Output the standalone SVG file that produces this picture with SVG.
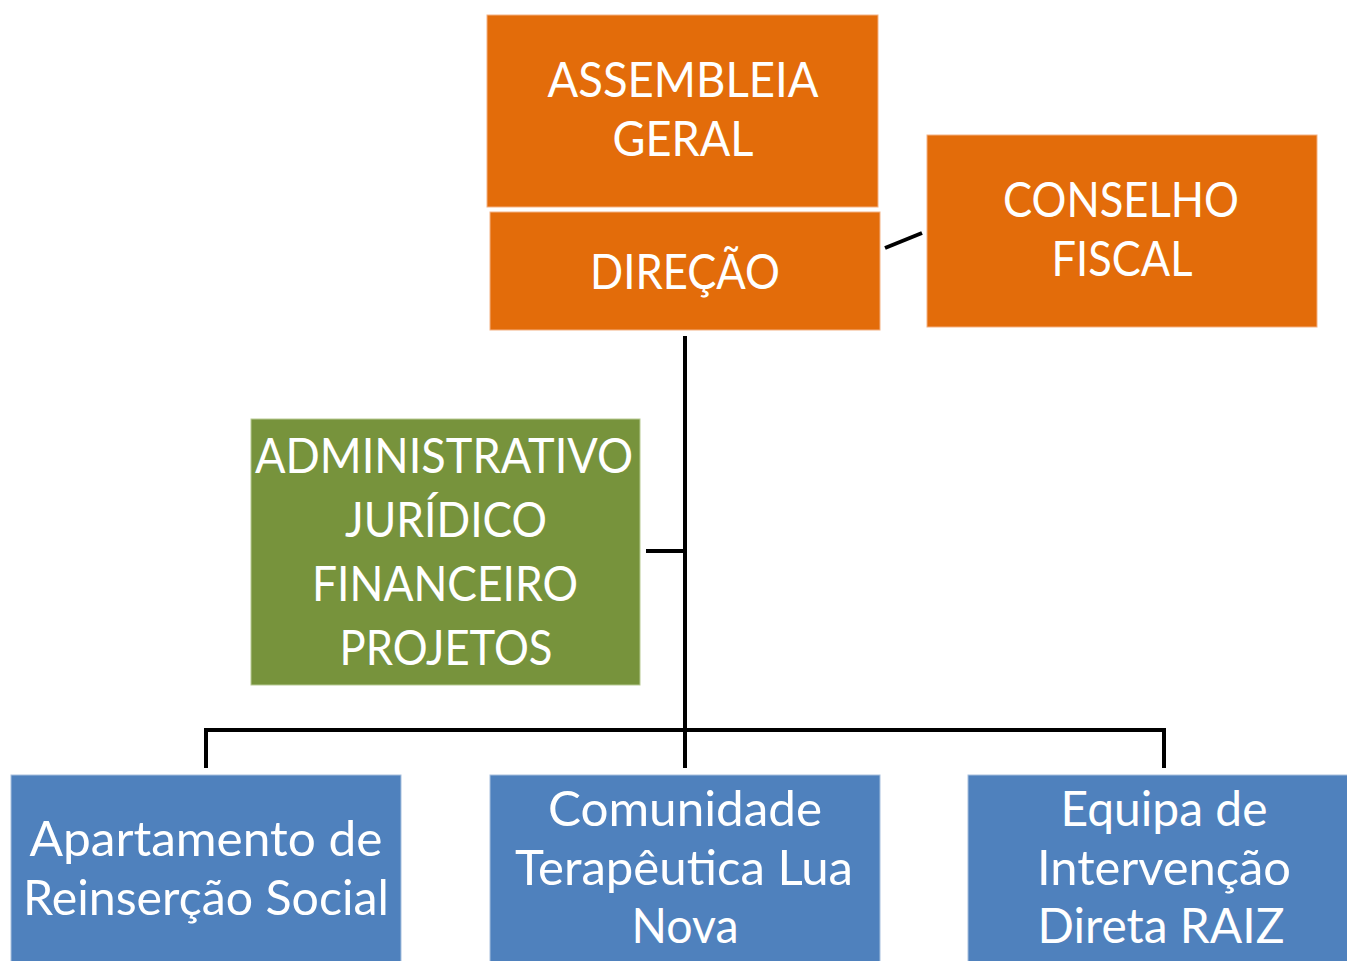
<svg xmlns="http://www.w3.org/2000/svg" width="1347" height="961" viewBox="0 0 1347 961">
<style>
.o{fill:#E36C0A;stroke:#F4B183;stroke-width:1}
.g{fill:#77933C;stroke:#B7CA92;stroke-width:1}
.b{fill:#4F81BD;stroke:#A7C0DE;stroke-width:1}
text{font-family:Lato,"Open Sans","Liberation Sans",sans-serif;font-size:48px;fill:#FFFFFF;text-anchor:middle}
.c{fill:none;stroke:#000000;stroke-width:4}
</style>
<rect width="1347" height="961" fill="#FFFFFF"/>
<g id="connectors">
<line class="c" x1="885" y1="248" x2="922" y2="233"/>
<line class="c" x1="685" y1="336" x2="685" y2="768"/>
<line class="c" x1="646" y1="551" x2="685" y2="551"/>
<polyline class="c" points="206,768 206,730 1164,730 1164,768"/>
</g>
<g id="assembleia">
<rect class="o" x="487" y="15" width="391" height="192"/>
<text x="683" y="97" textLength="271" lengthAdjust="spacingAndGlyphs">ASSEMBLEIA</text>
<text x="683" y="156" textLength="141" lengthAdjust="spacingAndGlyphs">GERAL</text>
</g>
<g id="direcao">
<rect class="o" x="490" y="212" width="390" height="118"/>
<text x="685" y="289" textLength="190" lengthAdjust="spacingAndGlyphs">DIREÇÃO</text>
</g>
<g id="conselho">
<rect class="o" x="927" y="135" width="390" height="192"/>
<text x="1121" y="217" textLength="236" lengthAdjust="spacingAndGlyphs">CONSELHO</text>
<text x="1122" y="276" textLength="141" lengthAdjust="spacingAndGlyphs">FISCAL</text>
</g>
<g id="administrativo">
<rect class="g" x="251" y="419" width="389" height="266"/>
<text x="444" y="473" textLength="378" lengthAdjust="spacingAndGlyphs">ADMINISTRATIVO</text>
<text x="446" y="537" textLength="202" lengthAdjust="spacingAndGlyphs">JURÍDICO</text>
<text x="445" y="601" textLength="266" lengthAdjust="spacingAndGlyphs">FINANCEIRO</text>
<text x="446" y="665" textLength="213" lengthAdjust="spacingAndGlyphs">PROJETOS</text>
</g>
<g id="apartamento">
<rect class="b" x="11" y="775" width="390" height="200"/>
<text x="206" y="856" textLength="353" lengthAdjust="spacingAndGlyphs">Apartamento de</text>
<text x="206" y="915" textLength="366" lengthAdjust="spacingAndGlyphs">Reinserção Social</text>
</g>
<g id="comunidade">
<rect class="b" x="490" y="775" width="390" height="200"/>
<text x="685" y="826" textLength="274" lengthAdjust="spacingAndGlyphs">Comunidade</text>
<text x="684" y="885" textLength="338" lengthAdjust="spacingAndGlyphs">Terapêutica Lua</text>
<text x="685" y="943" textLength="107" lengthAdjust="spacingAndGlyphs">Nova</text>
</g>
<g id="equipa">
<rect class="b" x="968" y="775" width="390" height="200"/>
<text x="1164" y="826" textLength="207" lengthAdjust="spacingAndGlyphs">Equipa de</text>
<text x="1164" y="885" textLength="254" lengthAdjust="spacingAndGlyphs">Intervenção</text>
<text x="1161" y="943" textLength="247" lengthAdjust="spacingAndGlyphs">Direta RAIZ</text>
</g>
</svg>
